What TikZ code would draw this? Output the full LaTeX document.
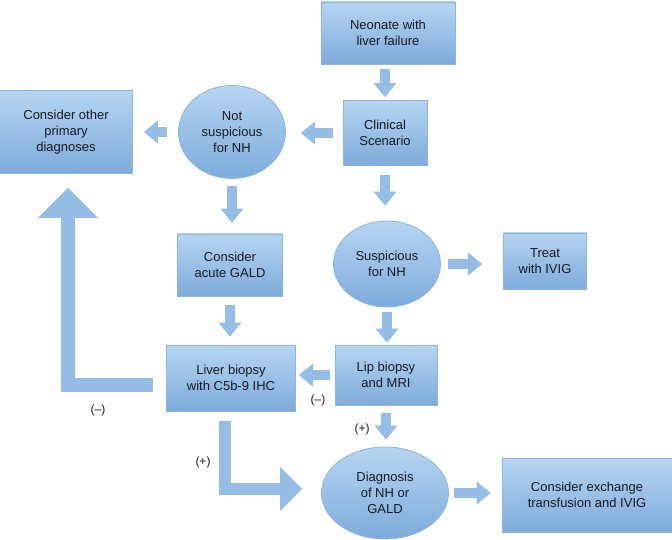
\documentclass[tikz,border=0pt]{standalone}
\usepackage{fontspec}
\setmainfont{Liberation Sans}
\usetikzlibrary{shapes.geometric,arrows.meta}

\definecolor{boxtop}{HTML}{B6D5F2}
\definecolor{boxbot}{HTML}{7DABDA}
\definecolor{boxline}{HTML}{8DB5DF}
\definecolor{arrowcol}{HTML}{95BDE6}
\definecolor{txt}{HTML}{1A1A22}

\tikzset{
  box/.style={rectangle, draw=boxline, line width=0.8pt, top color=boxtop,
    bottom color=boxbot, align=center, text=txt, inner sep=0pt,
    font=\fontsize{13}{16}\selectfont},
  oval/.style={box, ellipse},
  flow/.style={draw=arrowcol, line width=10pt,
    -{Triangle[length=14pt,width=23pt,line width=0pt]}},
  bigflow/.style={draw=arrowcol, line join=miter,
    -{Triangle[length=#1,width=2*#1,line width=0pt]}},
  sign/.style={text=txt, font=\fontsize{12}{14}\selectfont}
}

\begin{document}
\begin{tikzpicture}[x=1pt,y=-1pt]
  \useasboundingbox (0,0) rectangle (672,540);

  % boxes and ovals
  \node[box, minimum width=134pt, minimum height=62pt] (neo) at (388,33) {Neonate with\\liver failure};
  \node[box, minimum width=84pt, minimum height=65pt] (clin) at (385,133) {Clinical\\Scenario};
  \node[oval, minimum width=107pt, minimum height=93pt] (notsusp) at (232,132) {Not\\suspicious\\for NH};
  \node[box, minimum width=133pt, minimum height=83pt] (other) at (66,132) {Consider other\\primary\\diagnoses};
  \node[box, minimum width=105pt, minimum height=62pt] (acute) at (230,265) {Consider\\acute GALD};
  \node[oval, minimum width=107pt, minimum height=86pt] (susp) at (387,264) {Suspicious\\for NH};
  \node[box, minimum width=83pt, minimum height=56pt] (treat) at (545,261) {Treat\\with IVIG};
  \node[box, minimum width=129pt, minimum height=66pt] (liver) at (231,378) {Liver biopsy\\with C5b-9 IHC};
  \node[box, minimum width=102pt, minimum height=60pt] (lip) at (386,375) {Lip biopsy\\and MRI};
  \node[oval, minimum width=127pt, minimum height=92pt] (diag) at (385,493) {Diagnosis\\of NH or\\GALD};
  \node[box, minimum width=170pt, minimum height=74pt] (exch) at (587,495) {Consider exchange\\transfusion and IVIG};

  % block arrows
  \draw[flow, shorten <=5pt, shorten >=3pt] (clin.north |- neo.south) -- (clin.north);
  \draw[flow, shorten <=9pt, shorten >=15pt] (clin.south) -- (clin.south |- susp.north);
  \draw[flow, shorten <=10pt, shorten >=15pt] (clin.west) -- (clin.west -| notsusp.east);
  \draw[flow, shorten <=11pt, shorten >=11pt] (notsusp.west) -- (other.east |- notsusp.west);
  \draw[flow, shorten <=7pt, shorten >=11pt] (notsusp.south) -- (notsusp.south |- acute.north);
  \draw[flow, shorten <=9pt, shorten >=8pt] (acute.south) -- (acute.south |- liver.north);
  \draw[flow, shorten <=7pt, shorten >=21pt] (susp.east) -- (treat.west |- susp.east);
  \draw[flow, shorten <=5pt, shorten >=2pt] (susp.south) -- (susp.south |- lip.north);
  \draw[flow, shorten <=5pt, shorten >=3pt] (lip.west) -- (liver.east |- lip.west);
  \draw[flow, shorten <=8pt, shorten >=7pt] (lip.south) -- (lip.south |- diag.north);
  \draw[flow, shorten <=5pt, shorten >=11pt] (diag.east) -- (exch.west |- diag.east);

  \draw[bigflow=30pt, line width=14pt, shorten >=14pt]
    ([xshift=-13pt,yshift=-7pt]liver.west) -| ([xshift=2pt]other.south);
  \draw[bigflow=22pt, line width=12pt]
    ([xshift=-6pt,yshift=-10pt]liver.south) |- ([xshift=-19pt,yshift=4pt]diag.west);

  % outcome signs
  \node[sign] (negA) at (98,410) {(–)};
  \node[sign] (negB) at (318,400) {(–)};
  \node[sign] (posA) at (203,462) {(+)};
  \node[sign] (posB) at (362,429) {(+)};
\end{tikzpicture}
\end{document}
